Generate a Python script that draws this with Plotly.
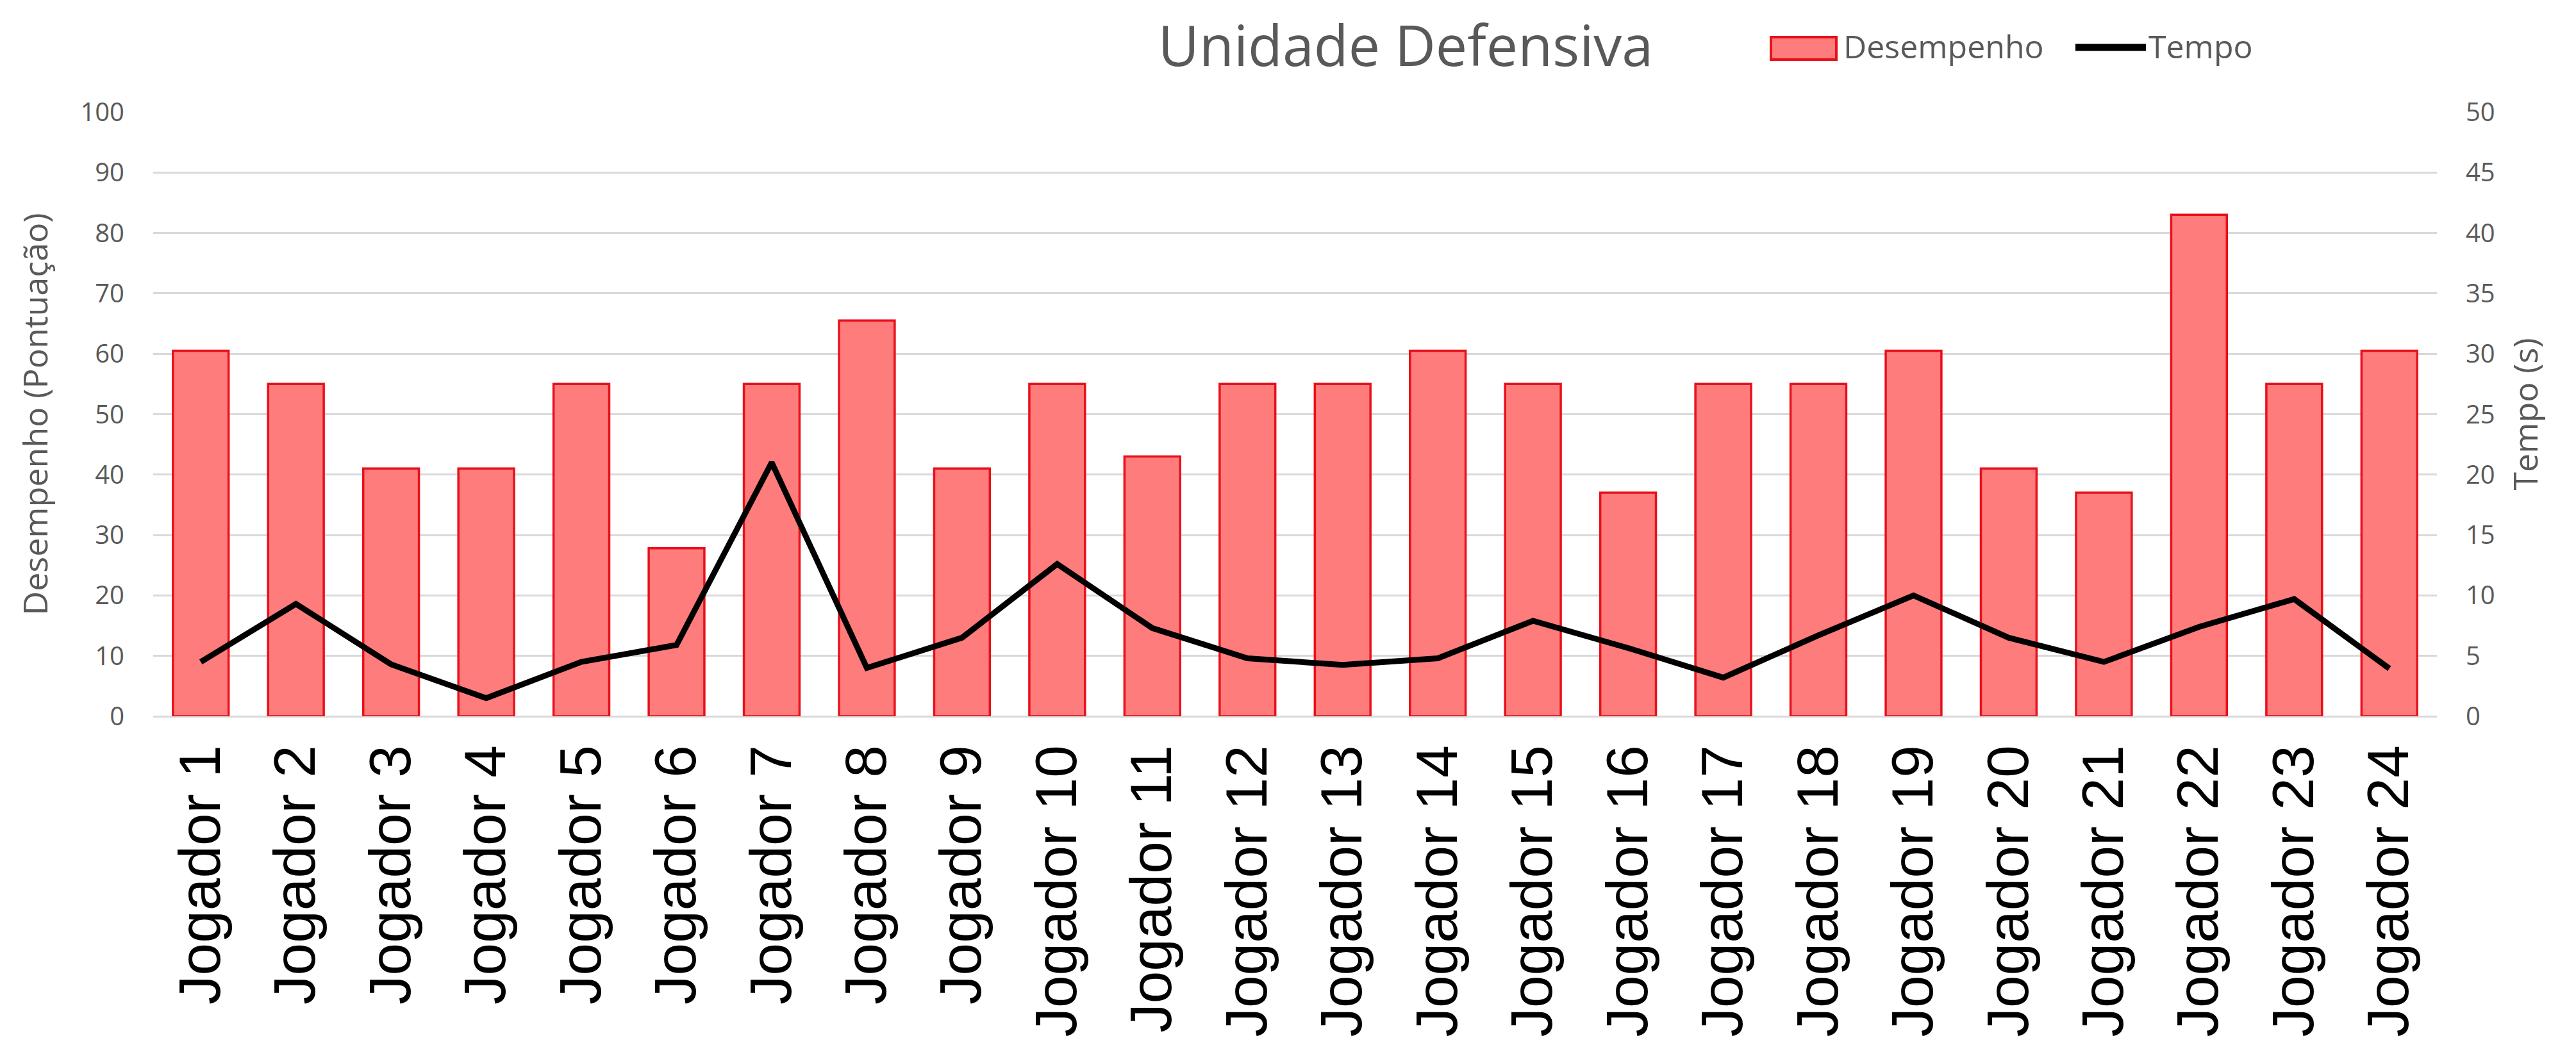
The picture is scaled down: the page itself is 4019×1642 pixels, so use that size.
import plotly.graph_objects as go

# ---- data ----
jogadores = [f"Jogador {i}" for i in range(1, 25)]
desempenho = [60.5, 55.0, 41.0, 41.0, 55.0, 27.8, 55.0, 65.5, 41.0, 55.0, 43.0, 55.0,
              55.0, 60.5, 55.0, 37.0, 55.0, 55.0, 60.5, 41.0, 37.0, 83.0, 55.0, 60.5]
tempo = [4.5, 9.3, 4.3, 1.5, 4.5, 5.9, 21.0, 4.0, 6.5, 12.6, 7.3, 4.8,
         4.25, 4.8, 7.9, 5.65, 3.2, 6.7, 10.0, 6.5, 4.5, 7.4, 9.7, 3.95]
left_ticks = list(range(0, 101, 10))
right_ticks = list(range(0, 51, 5))

W, H = 4019, 1642
L, R, T, B = 231, 3794, 167, 1110

GRAY = "#595959"
GRID = "#D9D9D9"
BAR_FILL = "#FF7C7C"
BAR_LINE = "#E8101A"
TXT_FONT = "Open Sans, Noto Sans, sans-serif"


def px(x):
    return (x - L) / (R - L)


def py(y):
    return (B - y) / (B - T)


fig = go.Figure()
fig.add_trace(go.Bar(
    x=jogadores, y=desempenho, name="Desempenho",
    marker=dict(color=BAR_FILL, line=dict(color=BAR_LINE, width=3.5)),
    yaxis="y", showlegend=False,
))
fig.add_trace(go.Scatter(
    x=jogadores, y=tempo, name="Tempo", mode="lines",
    line=dict(color="black", width=9), yaxis="y2", showlegend=False,
))

# manual legend (sized like the original)
shapes = [
    dict(type="rect", xref="paper", yref="paper",
         x0=px(2755), x1=px(2857), y0=py(85), y1=py(50),
         fillcolor=BAR_FILL, line=dict(color=BAR_LINE, width=4)),
    dict(type="line", xref="paper", yref="paper",
         x0=px(3230), x1=px(3340), y0=py(66), y1=py(66),
         line=dict(color="black", width=11)),
]
annotations = [
    dict(text="Desempenho", xref="paper", yref="paper", x=px(2866), y=py(64),
         xanchor="left", yanchor="middle", showarrow=False,
         font=dict(family=TXT_FONT, size=50, color=GRAY)),
    dict(text="Tempo", xref="paper", yref="paper", x=px(3342), y=py(64),
         xanchor="left", yanchor="middle", showarrow=False,
         font=dict(family=TXT_FONT, size=50, color=GRAY)),
]

fig.update_layout(
    width=W, height=H, autosize=False,
    margin=dict(l=L, r=W - R, t=T, b=H - B, pad=0),
    paper_bgcolor="white", plot_bgcolor="white",
    title=dict(text="Unidade Defensiva", xref="container", yref="container",
               x=2185 / W, xanchor="center", y=1 - 64 / H, yanchor="middle",
               font=dict(family=TXT_FONT, size=88, color=GRAY)),
    bargap=0.415,
    showlegend=False,
    shapes=shapes,
    annotations=annotations,
    xaxis=dict(
        type="category", tickangle=-90, ticks="", showgrid=False, showline=False,
        tickfont=dict(family="Arial, Liberation Sans, sans-serif", size=91, color="black"),
        ticklabelstandoff=26, automargin=False,
    ),
    yaxis=dict(
        range=[0, 100], tickvals=left_ticks, ticks="", showline=False,
        showgrid=True, gridcolor=GRID, gridwidth=3,
        zeroline=True, zerolinecolor=GRID, zerolinewidth=3,
        tickfont=dict(family=TXT_FONT, size=40, color=GRAY),
        ticklabelstandoff=44, automargin=False,
        title=dict(text="Desempenho (Pontuação)", standoff=34,
                   font=dict(family=TXT_FONT, size=52, color=GRAY)),
    ),
    yaxis2=dict(
        range=[0, 50], tickvals=right_ticks, overlaying="y", side="right",
        ticks="", showline=False, showgrid=False, zeroline=False,
        tickfont=dict(family=TXT_FONT, size=40, color=GRAY),
        ticklabelstandoff=44, automargin=False,
        title=dict(text="Tempo (s)", standoff=30,
                   font=dict(family=TXT_FONT, size=52, color=GRAY)),
    ),
)

fig.write_html("out.html")
